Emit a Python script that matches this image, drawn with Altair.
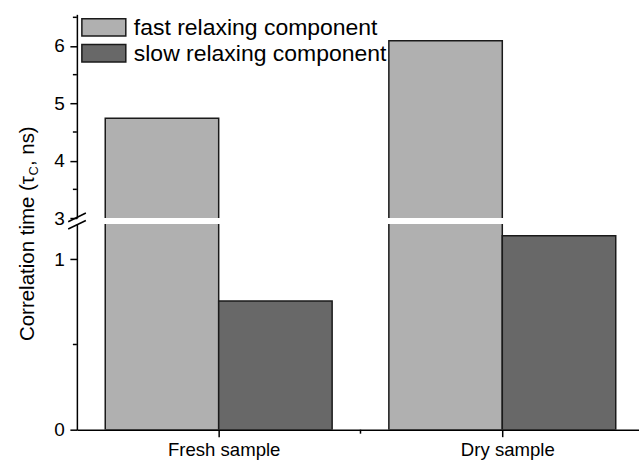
import json
import altair as alt
import pandas as pd

# ---------------- data ----------------
samples = ["Fresh sample", "Dry sample"]
components = ["fast relaxing component", "slow relaxing component"]
fast_values = [4.74, 6.09]
slow_values = [0.755, 1.138]

upper_ticks = [3, 4, 5, 6]
upper_minor = [3.5, 4.5, 5.5, 6.5]
lower_ticks = [0, 1]
lower_minor = [0.5]
x_ticks = [0, 1]
x_minor = [0.5]

title_main = "Correlation time (τ"
title_sub = "C"
title_end = ", ns)"

# ---------------- styles ----------------
FONT = "Liberation Sans"
FILL = ["#b0b0b0", "#686868"]
EDGE = "#1a1a1a"
W = 563
H_UP = 204
H_LO = 206
BAR_W = 0.4

rows = []
for i, s in enumerate(samples):
    rows.append({"sample": s, "idx": i, "component": components[0], "value": fast_values[i]})
    rows.append({"sample": s, "idx": i, "component": components[1], "value": slow_values[i]})
df = pd.DataFrame(rows)

x_scale = alt.Scale(domain=[-0.5, 1.482], nice=False, zero=False)
color_scale = alt.Scale(domain=components, range=FILL)
up_scale = alt.Scale(domain=[3, 6.552], nice=False, zero=False)
lo_scale = alt.Scale(domain=[0, 1.207], nice=False, zero=False)

axis_common = dict(
    grid=False, title=None, domainColor="black", domainWidth=1.5,
    tickColor="black", tickWidth=1.5, tickSize=7, labelColor="black",
    labelFont=FONT,
)

up_axis = alt.Axis(values=upper_ticks, format="~g", labelFontSize=19, labelPadding=5.5, **axis_common)
lo_axis = alt.Axis(values=lower_ticks, format="~g", labelFontSize=19, labelPadding=5.5, **axis_common)
label_expr = "datum.value == 0 ? %s : %s" % (json.dumps(samples[0]), json.dumps(samples[1]))
x_axis = alt.Axis(values=x_ticks, labelExpr=label_expr, labelOffset=5,
                  labelFontSize=18.6, labelPadding=4, **axis_common)


def bars(yscale, yaxis, xaxis):
    return alt.Chart(df).transform_calculate(
        x0="datum.idx + (datum.component == '%s' ? -%s : 0)" % (components[0], BAR_W),
        x1="datum.idx + (datum.component == '%s' ? 0 : %s)" % (components[0], BAR_W),
        base="0",
    ).mark_bar(clip=True, stroke=EDGE, strokeWidth=1.5).encode(
        x=alt.X("x0:Q", scale=x_scale, axis=xaxis),
        x2="x1:Q",
        y=alt.Y("value:Q", scale=yscale, axis=yaxis),
        y2="base:Q",
        fill=alt.Fill("component:N", scale=color_scale, legend=None),
    )


def minor_y(vals, yscale, yaxis):
    return alt.Chart(pd.DataFrame({"value": vals})).mark_rule(
        color="black", strokeWidth=1.5, clip=False
    ).encode(
        x=alt.value(-4), x2=alt.value(0),
        y=alt.Y("value:Q", scale=yscale, axis=yaxis),
    )


one = pd.DataFrame({"k": [0]})

# ---------- upper panel ----------
legend_layers = []
for i, (name, col) in enumerate(zip(components, FILL)):
    top = 4.3 + 26 * i
    legend_layers.append(
        alt.Chart(one).mark_rect(fill=col, stroke=EDGE, strokeWidth=1.5, clip=False).encode(
            x=alt.value(5), x2=alt.value(49), y=alt.value(top), y2=alt.value(top + 17.4)
        )
    )
    legend_layers.append(
        alt.Chart(one).mark_text(
            align="left", baseline="alphabetic", font=FONT, fontSize=23, color="black", clip=False
        ).encode(x=alt.value(57), y=alt.value(20.7 + 26 * i), text=alt.value(name))
    )

upper = alt.layer(
    bars(up_scale, up_axis, None),
    minor_y(upper_minor, up_scale, up_axis),
    *legend_layers,
).properties(width=W, height=H_UP)

# ---------- lower panel ----------
x_minor_layer = alt.Chart(pd.DataFrame({"x0": x_minor})).mark_rule(
    color="black", strokeWidth=1.5, clip=False
).encode(
    x=alt.X("x0:Q", scale=x_scale, axis=x_axis),
    y=alt.value(H_LO), y2=alt.value(H_LO + 4),
)

breaks = [
    alt.Chart(one).mark_rule(color="black", strokeWidth=1.5, clip=False).encode(
        x=alt.value(-8.7), x2=alt.value(9), y=alt.value(-2.3), y2=alt.value(-11)
    ),
    alt.Chart(one).mark_rule(color="black", strokeWidth=1.5, clip=False).encode(
        x=alt.value(-8.7), x2=alt.value(9), y=alt.value(5), y2=alt.value(-3.5)
    ),
]

TY = -48
TX = -43
title_layers = [
    alt.Chart(one).mark_text(
        angle=270, align="right", baseline="alphabetic", font=FONT, fontSize=20.5, color="black", clip=False
    ).encode(x=alt.value(TX), y=alt.value(TY), text=alt.value(title_main)),
    alt.Chart(one).mark_text(
        angle=270, align="left", baseline="alphabetic", font=FONT, fontSize=13, color="black", dy=4, clip=False
    ).encode(x=alt.value(TX), y=alt.value(TY - 0.5), text=alt.value(title_sub)),
    alt.Chart(one).mark_text(
        angle=270, align="left", baseline="alphabetic", font=FONT, fontSize=20.5, color="black", clip=False
    ).encode(x=alt.value(TX), y=alt.value(TY - 10), text=alt.value(title_end)),
]

lower = alt.layer(
    bars(lo_scale, lo_axis, x_axis),
    minor_y(lower_minor, lo_scale, lo_axis),
    x_minor_layer,
    *breaks,
    *title_layers,
).properties(width=W, height=H_LO)

chart = alt.vconcat(upper, lower, spacing=6, bounds="flush").properties(
    padding={"left": 17, "top": 14, "right": 0, "bottom": 0},
    background="white",
).configure_view(stroke=None)

chart.save("out.html", embed_options={"renderer": "svg", "actions": False})
